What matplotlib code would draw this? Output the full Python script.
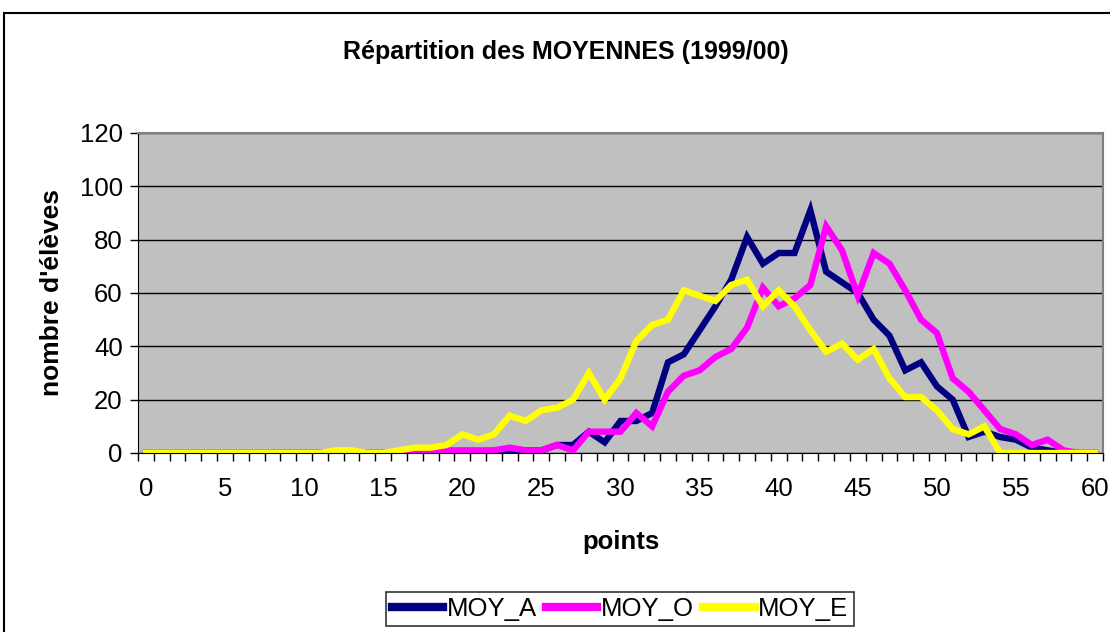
import numpy as np
import matplotlib
matplotlib.use("Agg")
import matplotlib.pyplot as plt
from matplotlib.patches import Rectangle

plt.rcParams['font.family'] = ['Liberation Sans', 'DejaVu Sans']

# points 0..60
points = list(range(61))

moy_a = [0, 0, 0, 0, 0, 0, 0, 0, 0, 0,
         0, 0, 0, 0, 0, 0, 0, 0, 0, 0,
         0, 0, 0, 1, 1, 1, 3, 3, 8, 4,
         12, 12, 15, 34, 37, 46, 55, 65, 81, 71,
         75, 75, 91, 68, 64, 60, 50, 44, 31, 34,
         25, 20, 6, 8, 6, 5, 2, 1, 0, 0,
         0]
moy_o = [0, 0, 0, 0, 0, 0, 0, 0, 0, 0,
         0, 0, 0, 0, 0, 0, 0, 0, 0, 1,
         1, 1, 1, 2, 1, 1, 3, 1, 8, 8,
         8, 15, 10, 23, 29, 31, 36, 39, 47, 62,
         55, 58, 63, 85, 76, 59, 75, 71, 61, 50,
         45, 28, 23, 16, 9, 7, 3, 5, 1, 0,
         0]
moy_e = [0, 0, 0, 0, 0, 0, 0, 0, 0, 0,
         0, 0, 1, 1, 0, 0, 1, 2, 2, 3,
         7, 5, 7, 14, 12, 16, 17, 20, 30, 20,
         28, 42, 48, 50, 61, 59, 57, 63, 65, 55,
         61, 55, 46, 38, 41, 35, 39, 28, 21, 21,
         16, 9, 7, 10, 0, 0, 0, 0, 0, 0,
         0]

series_names = ["MOY_A", "MOY_O", "MOY_E"]
series_colors = ["#000080", "#FF00FF", "#FFFF00"]

fs = 18.5

fig = plt.figure(figsize=(11.1, 6.32), dpi=100)
ax = fig.add_axes([138/1110, 1 - 453/632, (1103 - 138)/1110, (453 - 133)/632])

ax.set_facecolor("#C0C0C0")
for vals, name, col in zip([moy_a, moy_o, moy_e], series_names, series_colors):
    ax.plot(points, vals, color=col, linewidth=4.6, label=name, solid_joinstyle='miter')

ax.set_xlim(-0.5, 60.5)
ax.set_ylim(0, 120)
ax.set_yticks(np.arange(0, 121, 20))
ax.set_xticks(np.arange(0, 61, 5))
ax.set_xticks(np.arange(-0.5, 61, 1), minor=True)
ax.tick_params(axis='x', which='major', length=0, labelsize=fs, pad=17)
ax.tick_params(axis='x', which='minor', length=6, width=1, direction='out', color='black')
ax.tick_params(axis='y', which='major', length=6, width=1, direction='out', labelsize=fs, pad=5)
ax.yaxis.grid(True, color='black', linewidth=1)
ax.set_axisbelow(True)

for s in ['top', 'right']:
    ax.spines[s].set_color('#808080')
    ax.spines[s].set_linewidth(1.5)
ax.spines['left'].set_color('black')
ax.spines['bottom'].set_color('black')

ax.set_xlabel("points", fontsize=fs, fontweight='bold')
ax.xaxis.set_label_coords(0.5, (453 - 542) / 320)
ax.xaxis.label.set_va('center')
ax.set_ylabel("nombre d'élèves", fontsize=19, fontweight='bold')
ax.yaxis.set_label_coords((52 - 138) / 965, 0.5)
ax.yaxis.label.set_va('center')

fig.text(566/1110, 1 - 52/632, "Répartition des MOYENNES (1999/00)",
         ha='center', va='center', fontsize=18, fontweight='bold')

leg = fig.legend(loc='center', bbox_to_anchor=(620/1110, 1 - 609/632), ncol=3,
                 fontsize=fs, frameon=True, fancybox=False, edgecolor='black',
                 handlelength=2.0, handletextpad=0.15, columnspacing=0.35,
                 borderpad=0.2, borderaxespad=0)
leg.get_frame().set_linewidth(1.2)
for h in leg.get_lines():
    h.set_linewidth(6)

# outer chart frame
fig.patches.append(Rectangle((4/1110, -0.1), 1.2, 1.1 - 13/632, transform=fig.transFigure,
                             fill=False, edgecolor='black', linewidth=1.5))

fig.savefig("out.png", dpi=100)
